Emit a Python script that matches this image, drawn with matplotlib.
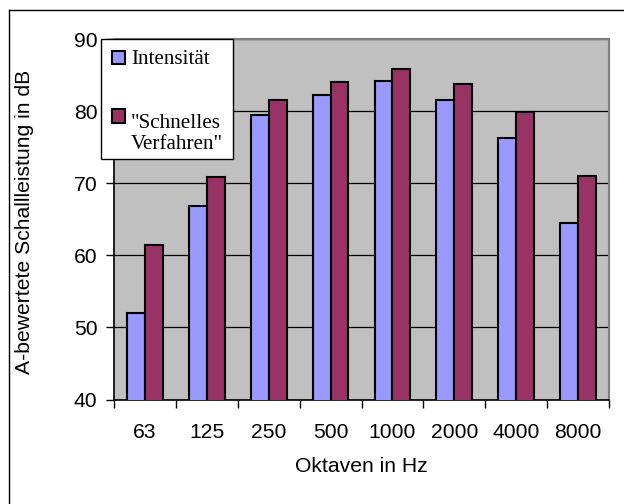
import matplotlib
matplotlib.use("Agg")
import matplotlib.pyplot as plt
from matplotlib.patches import Rectangle
from matplotlib.lines import Line2D
import numpy as np

categories = ["63", "125", "250", "500", "1000", "2000", "4000", "8000"]
intensitaet = [52.0, 66.9, 79.5, 82.3, 84.2, 81.5, 76.3, 64.5]
schnelles = [61.4, 70.8, 81.5, 84.1, 85.8, 83.8, 79.9, 71.0]
series_names = ["Intensität", "\"Schnelles\nVerfahren\""]
yticks = [40, 50, 60, 70, 80, 90]

W, H = 624, 504
fig = plt.figure(figsize=(W / 100, H / 100), dpi=100)
fig.patch.set_facecolor("white")

def fx(px):
    return px / W

def fy(py):
    return 1 - py / H

ax = fig.add_axes([fx(114), fy(399.5), fx(609) - fx(114), fy(39) - fy(399.5)])
ax.set_facecolor("#C0C0C0")

x = np.arange(len(categories))
bw = 0.288
c1, c2 = "#9999FF", "#993366"
ax.bar(x - bw / 2, intensitaet, bw, bottom=0, color=c1, edgecolor="black", linewidth=1.5, zorder=3)
ax.bar(x + bw / 2, schnelles, bw, bottom=0, color=c2, edgecolor="black", linewidth=1.5, zorder=3)

ax.set_ylim(40, 90)
ax.set_xlim(-0.5, len(categories) - 0.5)
ax.set_yticks(yticks)
ax.yaxis.grid(True, color="black", linewidth=0.9, zorder=1)
ax.set_axisbelow(True)

ax.set_xticks(np.arange(len(categories) + 1) - 0.5)
ax.set_xticklabels([])
ax.set_xticks(x, minor=True)
ax.set_xticklabels(categories, minor=True)
ax.tick_params(axis="x", which="minor", length=0, pad=17)
ax.tick_params(axis="x", which="major", length=6, width=1, direction="out")
ax.tick_params(axis="y", length=6, width=1, direction="out", pad=6)

font = "Liberation Sans"
fs = 15.2
for lab in ax.get_yticklabels() + ax.get_xticklabels(minor=True):
    lab.set_fontfamily(font)
    lab.set_fontsize(fs)

for s in ["left", "bottom"]:
    ax.spines[s].set_color("black")
    ax.spines[s].set_linewidth(1.2)
for s in ["top", "right"]:
    ax.spines[s].set_color("#808080")
    ax.spines[s].set_linewidth(1.5)

fig.text(fx(25), fy(222), "A-bewertete Schallleistung in dB", rotation=90,
         ha="center", va="center", fontsize=fs, family=font)
fig.text(fx(361), fy(467), "Oktaven in Hz", ha="center", va="center",
         fontsize=fs, family=font)

# outer border
fig.add_artist(Line2D([fx(9), fx(9)], [fy(10), fy(504)], color="black", linewidth=1, transform=fig.transFigure))
fig.add_artist(Line2D([fx(9), fx(624)], [fy(10), fy(10)], color="black", linewidth=1, transform=fig.transFigure))

# legend
lx0, ly0, lx1, ly1 = 100.7, 39.3, 233, 159
fig.add_artist(Rectangle((fx(lx0), fy(ly1)), fx(lx1) - fx(lx0), fy(ly0) - fy(ly1),
                         facecolor="white", edgecolor="black", linewidth=1,
                         transform=fig.transFigure, zorder=10))
hs = 13
line_px = 25
for (cy, col, label, base) in [(57.5, c1, series_names[0], 64.2), (116, c2, series_names[1], 124.3)]:
    fig.add_artist(Rectangle((fx(111.5), fy(cy + hs / 2)), fx(hs), fy(0) - fy(hs),
                             facecolor=col, edgecolor="black", linewidth=1.5,
                             transform=fig.transFigure, zorder=11))
    nl = label.count("\n")
    fig.text(fx(131), fy(base + nl * line_px), label, ha="left", va="baseline", fontsize=fs,
             family="Liberation Serif", zorder=12, linespacing=1.2)

fig.savefig("out.png", dpi=100)
